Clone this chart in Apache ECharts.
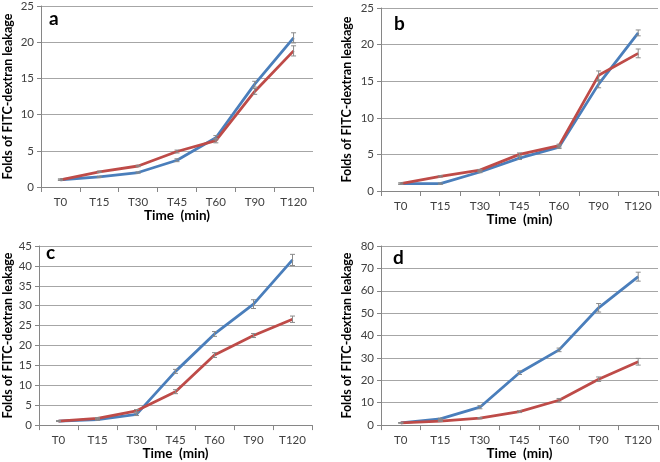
<!DOCTYPE html>
<html>
<head>
<meta charset="utf-8">
<script src="https://cdn.jsdelivr.net/npm/echarts@6/dist/echarts.min.js"></script>
<style>html,body{margin:0;padding:0;background:#fff}#c{width:660px;height:462px}</style>
</head>
<body>
<div id="c"></div>
<script>
const categories = ['T0','T15','T30','T45','T60','T90','T120'];

const aBlue = [1.0, 1.4, 2.0, 3.7, 6.8, 14.2, 20.6];
const aRed  = [1.0, 2.1, 2.9, 4.9, 6.4, 13.2, 18.8];
const aBlueErr = [0.1, 0.1, 0.1, 0.2, 0.3, 0.4, 0.7];
const aRedErr  = [0.1, 0.1, 0.1, 0.2, 0.3, 0.4, 0.7];

const bBlue = [1.0, 1.0, 2.6, 4.5, 6.0, 14.6, 21.6];
const bRed  = [1.0, 2.0, 2.85, 5.0, 6.2, 15.8, 18.8];
const bBlueErr = [0.1, 0.1, 0.1, 0.2, 0.2, 0.5, 0.4];
const bRedErr  = [0.1, 0.1, 0.1, 0.2, 0.2, 0.6, 0.6];

const cBlue = [1.0, 1.4, 2.7, 13.5, 22.9, 30.4, 41.5];
const cRed  = [1.0, 1.7, 3.6, 8.4, 17.6, 22.5, 26.6];
const cBlueErr = [0.1, 0.2, 0.3, 0.5, 0.6, 1.1, 1.4];
const cRedErr  = [0.1, 0.2, 0.3, 0.5, 0.6, 0.5, 0.8];

const dBlue = [1.0, 2.8, 8.0, 23.4, 33.6, 52.4, 66.3];
const dRed  = [1.0, 1.8, 3.1, 6.0, 11.1, 20.5, 28.3];
const dBlueErr = [0.1, 0.3, 0.7, 0.8, 0.8, 1.9, 2.0];
const dRedErr  = [0.1, 0.2, 0.3, 0.4, 0.8, 1.0, 1.5];

const yMax = [25, 25, 45, 80];
const yInterval = [5, 5, 5, 10];
const panelLetters = ['a', 'b', 'c', 'd'];
const yName = 'Folds of FITC-dextran leakage';
const xName = 'Time  (min)';

const panels = [
  {blue: aBlue, red: aRed, be: aBlueErr, re: aRedErr},
  {blue: bBlue, red: bRed, be: bBlueErr, re: bRedErr},
  {blue: cBlue, red: cRed, be: cBlueErr, re: cRedErr},
  {blue: dBlue, red: dRed, be: dBlueErr, re: dRedErr}
];

const FONT = 'Lato, "Noto Sans", sans-serif';
const BLUE = '#4a7ebb';
const RED = '#be4b48';

const grids = [
  {left: 36, top: 6, width: 277, height: 181},
  {left: 381, top: 8, width: 277, height: 183},
  {left: 34, top: 246, width: 278, height: 181},
  {left: 381, top: 246, width: 277, height: 182}
];
const xNameGap = [19, 17, 19, 19];
const yNameGap = [27, 28, 25, 28];

const xAxes = [], yAxes = [], series = [];
panels.forEach((p, i) => {
  xAxes.push({
    type: 'category', gridIndex: i, data: categories, boundaryGap: true,
    axisLine: {lineStyle: {color: '#868686', width: 1}},
    axisTick: {show: true, length: 5, lineStyle: {color: '#868686'}},
    axisLabel: {color: '#404040', fontSize: 11.5, fontFamily: FONT, margin: 9},
    name: xName, nameLocation: 'middle', nameGap: xNameGap[i],
    nameTextStyle: {color: '#000', fontSize: 13.5, fontWeight: 'bold', fontFamily: FONT}
  });
  yAxes.push({
    type: 'value', gridIndex: i, min: 0, max: yMax[i], interval: yInterval[i],
    axisLine: {show: true, lineStyle: {color: '#868686', width: 1}},
    axisTick: {show: true, length: 4, lineStyle: {color: '#868686'}},
    axisLabel: {color: '#404040', fontSize: 11.5, fontFamily: FONT, margin: 7},
    splitLine: {show: true, lineStyle: {color: '#a6a6a6', width: 1}},
    name: yName, nameLocation: 'middle', nameGap: yNameGap[i],
    nameTextStyle: {color: '#000', fontSize: 12.5, fontWeight: 'bold', fontFamily: FONT}
  });
  [[p.blue, p.be, BLUE], [p.red, p.re, RED]].forEach(([vals, errs, col]) => {
    series.push({
      type: 'line', xAxisIndex: i, yAxisIndex: i, data: vals,
      symbol: 'none', lineStyle: {color: col, width: 2.8}, itemStyle: {color: col},
      z: 3, animation: false
    });
    series.push({
      type: 'custom', xAxisIndex: i, yAxisIndex: i,
      data: vals.map((v, k) => [k, v, errs[k]]),
      z: 4, animation: false,
      renderItem: function (params, api) {
        const x = api.value(0), v = api.value(1), e = api.value(2);
        const top = api.coord([x, v + e]);
        const bot = api.coord([x, v - e]);
        const w = 2.5;
        const st = {stroke: '#8a8a8a', lineWidth: 1};
        return {type: 'group', children: [
          {type: 'line', shape: {x1: top[0], y1: top[1], x2: bot[0], y2: bot[1]}, style: st},
          {type: 'line', shape: {x1: top[0] - w, y1: top[1], x2: top[0] + w, y2: top[1]}, style: st},
          {type: 'line', shape: {x1: bot[0] - w, y1: bot[1], x2: bot[0] + w, y2: bot[1]}, style: st}
        ]};
      }
    });
  });
});

const letterPos = [[55, 20], [400, 25], [52, 254], [399, 259]];
const graphic = panelLetters.map((t, i) => ({
  type: 'text', left: letterPos[i][0] - 6, top: letterPos[i][1] - 11,
  style: {text: t, fontSize: 19, fontWeight: 'bold', fontFamily: FONT, fill: '#000'}
}));

const chart = echarts.init(document.getElementById('c'), null, {renderer: 'canvas'});
chart.setOption({
  animation: false,
  grid: grids,
  xAxis: xAxes,
  yAxis: yAxes,
  series: series,
  graphic: graphic
});
</script>
</body>
</html>
